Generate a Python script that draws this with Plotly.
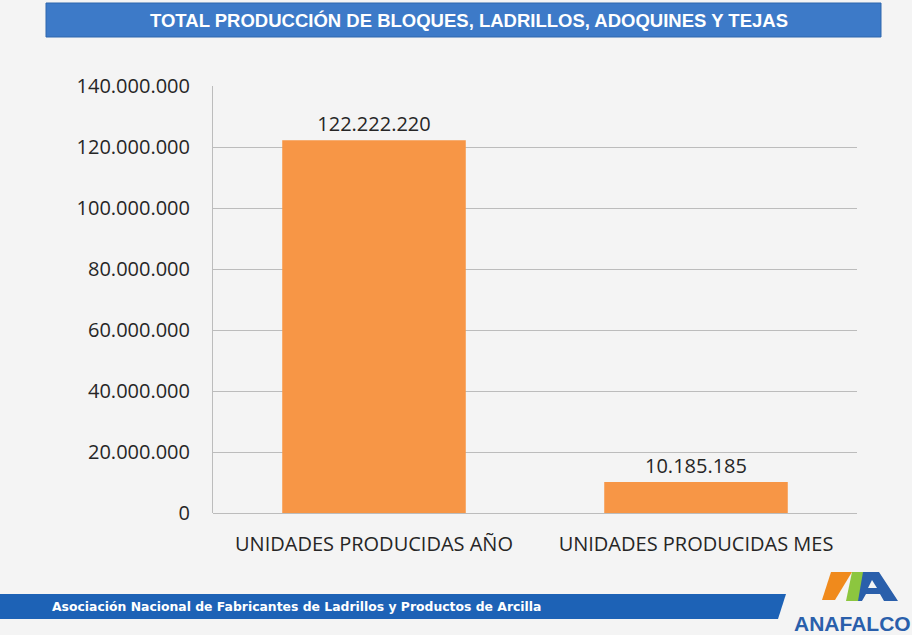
import plotly.graph_objects as go

categories = ["UNIDADES PRODUCIDAS AÑO", "UNIDADES PRODUCIDAS MES"]
values = [122222220, 10185185]
y_ticks = [0, 20000000, 40000000, 60000000, 80000000, 100000000, 120000000, 140000000]

title_text = "TOTAL PRODUCCIÓN DE BLOQUES, LADRILLOS, ADOQUINES Y TEJAS"
footer_text = "Asociación Nacional de Fabricantes de Ladrillos y Productos de Arcilla"
logo_text = "ANAFALCO"

W, H = 912, 635
L, R, T, B = 213, 55, 86, 122
PW, PH = W - L - R, H - T - B
BG = "#f4f4f4"


def px(x):
    return (x - L) / PW


def py(y):
    return (H - B - y) / PH


def poly(points):
    return "M " + " L ".join(f"{px(x):.5f},{py(y):.5f}" for x, y in points) + " Z"


fig = go.Figure(
    go.Bar(
        x=categories,
        y=values,
        marker=dict(color="#f79646", line=dict(width=0)),
        texttemplate="%{y:,d}",
        textposition="outside",
        textfont=dict(family="Open Sans", size=20, color="#262626"),
        cliponaxis=False,
        width=0.57,
    )
)

shapes = [
    # title banner
    dict(type="rect", xref="paper", yref="paper", x0=px(46), x1=px(881), y0=py(37), y1=py(3),
         fillcolor="#3d7ac8", line=dict(color="#2f66ad", width=1), layer="below"),
    # footer bar with slanted end
    dict(type="path", xref="paper", yref="paper",
         path=poly([(0, 594), (786, 594), (778, 619), (0, 619)]),
         fillcolor="#1d62b6", line=dict(width=0)),
    # logo pieces
    dict(type="path", xref="paper", yref="paper",
         path=poly([(831, 572), (852, 572), (835, 600), (822, 600)]),
         fillcolor="#f08a1c", line=dict(width=0)),
    dict(type="path", xref="paper", yref="paper",
         path=poly([(862, 572), (879, 572), (898, 601), (884, 601), (880, 594),
                    (866, 594), (862, 601), (849, 601)]),
         fillcolor="#2a5fab", line=dict(width=0)),
    dict(type="path", xref="paper", yref="paper",
         path=poly([(868, 588), (877, 588), (872, 580)]),
         fillcolor=BG, line=dict(width=0)),
    dict(type="path", xref="paper", yref="paper",
         path=poly([(852, 572), (863, 572), (858, 601), (846, 601)]),
         fillcolor="#8cc63f", line=dict(width=0)),
]

annotations = [
    dict(text=f"<b>{title_text}</b>", xref="paper", yref="paper", x=px(469), y=py(20),
         xanchor="center", yanchor="middle", showarrow=False,
         font=dict(family="Liberation Sans", size=18.5, color="white")),
    dict(text=f"<b>{footer_text}</b>", xref="paper", yref="paper", x=px(50), y=py(606.5),
         xanchor="left", yanchor="middle", showarrow=False,
         font=dict(family="DejaVu Sans", size=12.4, color="white")),
    dict(text=f"<b>{logo_text}</b>", xref="paper", yref="paper", x=px(852), y=py(623),
         xanchor="center", yanchor="middle", showarrow=False,
         font=dict(family="Liberation Sans", size=21, color="#2a5fab")),
]

fig.update_layout(
    width=W,
    height=H,
    margin=dict(l=L, r=R, t=T, b=B, pad=0),
    paper_bgcolor=BG,
    plot_bgcolor=BG,
    separators=",.",
    showlegend=False,
    bargap=0.43,
    shapes=shapes,
    annotations=annotations,
    font=dict(family="Open Sans", color="#262626"),
)

fig.update_xaxes(
    showgrid=False,
    showline=False,
    ticks="outside",
    ticklen=13,
    tickcolor="rgba(0,0,0,0)",
    tickfont=dict(family="Open Sans", size=20, color="#262626"),
    fixedrange=True,
)

fig.update_yaxes(
    range=[0, 140000000],
    tickvals=y_ticks,
    tickformat=",d",
    showgrid=True,
    gridcolor="#bcbcbc",
    gridwidth=1,
    showline=True,
    linecolor="#bcbcbc",
    linewidth=1,
    zeroline=True,
    zerolinecolor="#bcbcbc",
    zerolinewidth=1,
    ticks="outside",
    ticklen=18,
    tickcolor="rgba(0,0,0,0)",
    tickfont=dict(family="Open Sans", size=20, color="#262626"),
    fixedrange=True,
)

fig.write_html(
    "out.html",
    config={"displayModeBar": False},
    post_script="document.body.style.margin='0';document.body.style.overflow='hidden';",
)
